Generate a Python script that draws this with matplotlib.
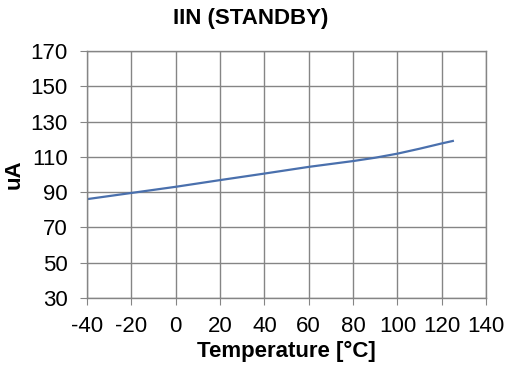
import matplotlib
matplotlib.use("Agg")
import matplotlib.pyplot as plt

plt.rcParams['font.family'] = ['Liberation Sans', 'DejaVu Sans']
plt.rcParams['axes.unicode_minus'] = False

temperature = [-40, -20, 0, 20, 40, 60, 80, 90, 100, 110, 120, 125]
current_ua = [86, 89.5, 93, 96.8, 100.5, 104.3, 107.6, 109.5, 111.8, 114.6, 117.6, 119]

x_ticks = [-40, -20, 0, 20, 40, 60, 80, 100, 120, 140]
y_ticks = [30, 50, 70, 90, 110, 130, 150, 170]

fig = plt.figure(figsize=(5.09, 3.70), dpi=100)
ax = fig.add_axes([0.171, 0.195, 0.784, 0.667])

ax.plot(temperature, current_ua, color='#4a70ad', linewidth=1.6)

ax.set_xlim(-40, 140)
ax.set_ylim(30, 170)
ax.set_xticks(x_ticks)
ax.set_yticks(y_ticks)
ax.grid(True, color='#858585', linewidth=1.0)
ax.set_axisbelow(True)
for s in ax.spines.values():
    s.set_color('#858585')
    s.set_linewidth(1.0)
ax.tick_params(axis='both', length=5, color='#858585', labelsize=16)
ax.tick_params(axis='y', pad=9)
ax.tick_params(axis='x', pad=8)

ax.set_xlabel('Temperature [°C]', fontsize=16, fontweight='bold', labelpad=3)
ax.set_ylabel('uA', fontsize=16, fontweight='bold', labelpad=4)
fig.suptitle('IIN (STANDBY)', x=0.493, y=0.95, fontsize=16, fontweight='bold', va='center')

fig.savefig('out.png', dpi=100)
